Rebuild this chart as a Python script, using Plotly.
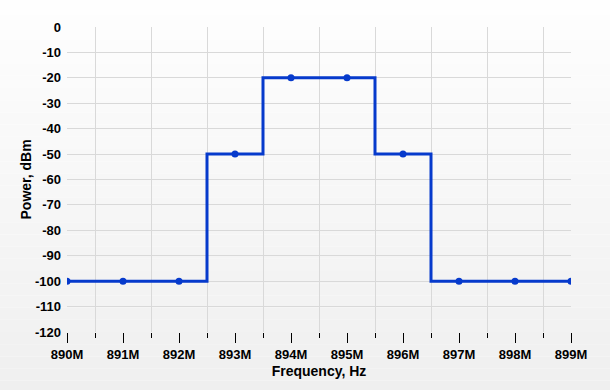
import plotly.graph_objects as go

freq_hz = [890e6, 891e6, 892e6, 893e6, 894e6, 895e6, 896e6, 897e6, 898e6, 899e6]
power_dbm = [-100, -100, -100, -50, -20, -20, -50, -100, -100, -100]
x_tick_vals = [890e6, 891e6, 892e6, 893e6, 894e6, 895e6, 896e6, 897e6, 898e6, 899e6]
x_tick_text = ["890M", "891M", "892M", "893M", "894M", "895M", "896M", "897M", "898M", "899M"]
y_tick_vals = [0, -10, -20, -30, -40, -50, -60, -70, -80, -90, -100, -110, -120]
y_tick_text = ["0", "-10", "-20", "-30", "-40", "-50", "-60", "-70", "-80", "-90", "-100", "-110", "-120"]
y_grid_vals = [-10, -20, -30, -40, -50, -60, -70, -80, -90, -100, -110]
x_grid_vals = [890.5e6, 891.5e6, 892.5e6, 893.5e6, 894.5e6, 895.5e6, 896.5e6, 897.5e6, 898.5e6]

BLUE = "rgb(6,58,204)"
FONT = "Liberation Sans"

fig = go.Figure()
fig.add_trace(go.Scatter(
    x=freq_hz, y=power_dbm, mode="lines+markers",
    line=dict(color=BLUE, width=3, shape="hvh"),
    marker=dict(color=BLUE, size=7),
    cliponaxis=True, showlegend=False, hoverinfo="x+y",
))

# background vertical gradient (white -> light gray)
n = 40
shapes = []
for i in range(n):
    t = i / (n - 1)
    c = int(round(255 - 18 * t))
    shapes.append(dict(type="rect", xref="paper", yref="paper",
                       x0=-0.2, x1=1.2,
                       y0=1.2 - (i + 1) * (1.6 / n), y1=1.2 - i * (1.6 / n),
                       fillcolor=f"rgb({c},{c},{c})", line=dict(width=0),
                       layer="below"))

fig.update_layout(
    width=610, height=390,
    margin=dict(l=67, r=39, t=27, b=58),
    paper_bgcolor="white",
    plot_bgcolor="rgba(0,0,0,0)",
    shapes=shapes,
    font=dict(family=FONT, color="black"),
    xaxis=dict(
        range=[890e6, 899e6],
        tickmode="array", tickvals=x_tick_vals, ticktext=x_tick_text,
        ticks="outside", ticklen=10, tickwidth=1, tickcolor="black",
        showgrid=False, zeroline=False, showline=False,
        tickfont=dict(family=FONT, size=13, color="black", weight="bold"),
        minor=dict(tickmode="array", tickvals=x_grid_vals, ticks="outside",
                   ticklen=5, tickwidth=1, tickcolor="black",
                   showgrid=True, gridcolor="#d9d9d9", gridwidth=1),
        title=dict(text="Frequency, Hz", standoff=5,
                   font=dict(family=FONT, size=14, color="black", weight="bold")),
    ),
    yaxis=dict(
        range=[-120, 0],
        tickmode="array", tickvals=y_tick_vals, ticktext=y_tick_text,
        ticks="", showgrid=False, zeroline=False, showline=False,
        ticklabelstandoff=5,
        tickfont=dict(family=FONT, size=13, color="black", weight="bold"),
        minor=dict(tickmode="array", tickvals=y_grid_vals, ticks="",
                   showgrid=True, gridcolor="#d9d9d9", gridwidth=1),
    ),
    annotations=[dict(text="Power, dBm", xref="paper", yref="paper",
                      x=0, y=0.5, xanchor="center", yanchor="middle",
                      xshift=-42, textangle=-90, showarrow=False,
                      font=dict(family=FONT, size=14, color="black", weight="bold"))],
)

fig.write_html("out.html")
